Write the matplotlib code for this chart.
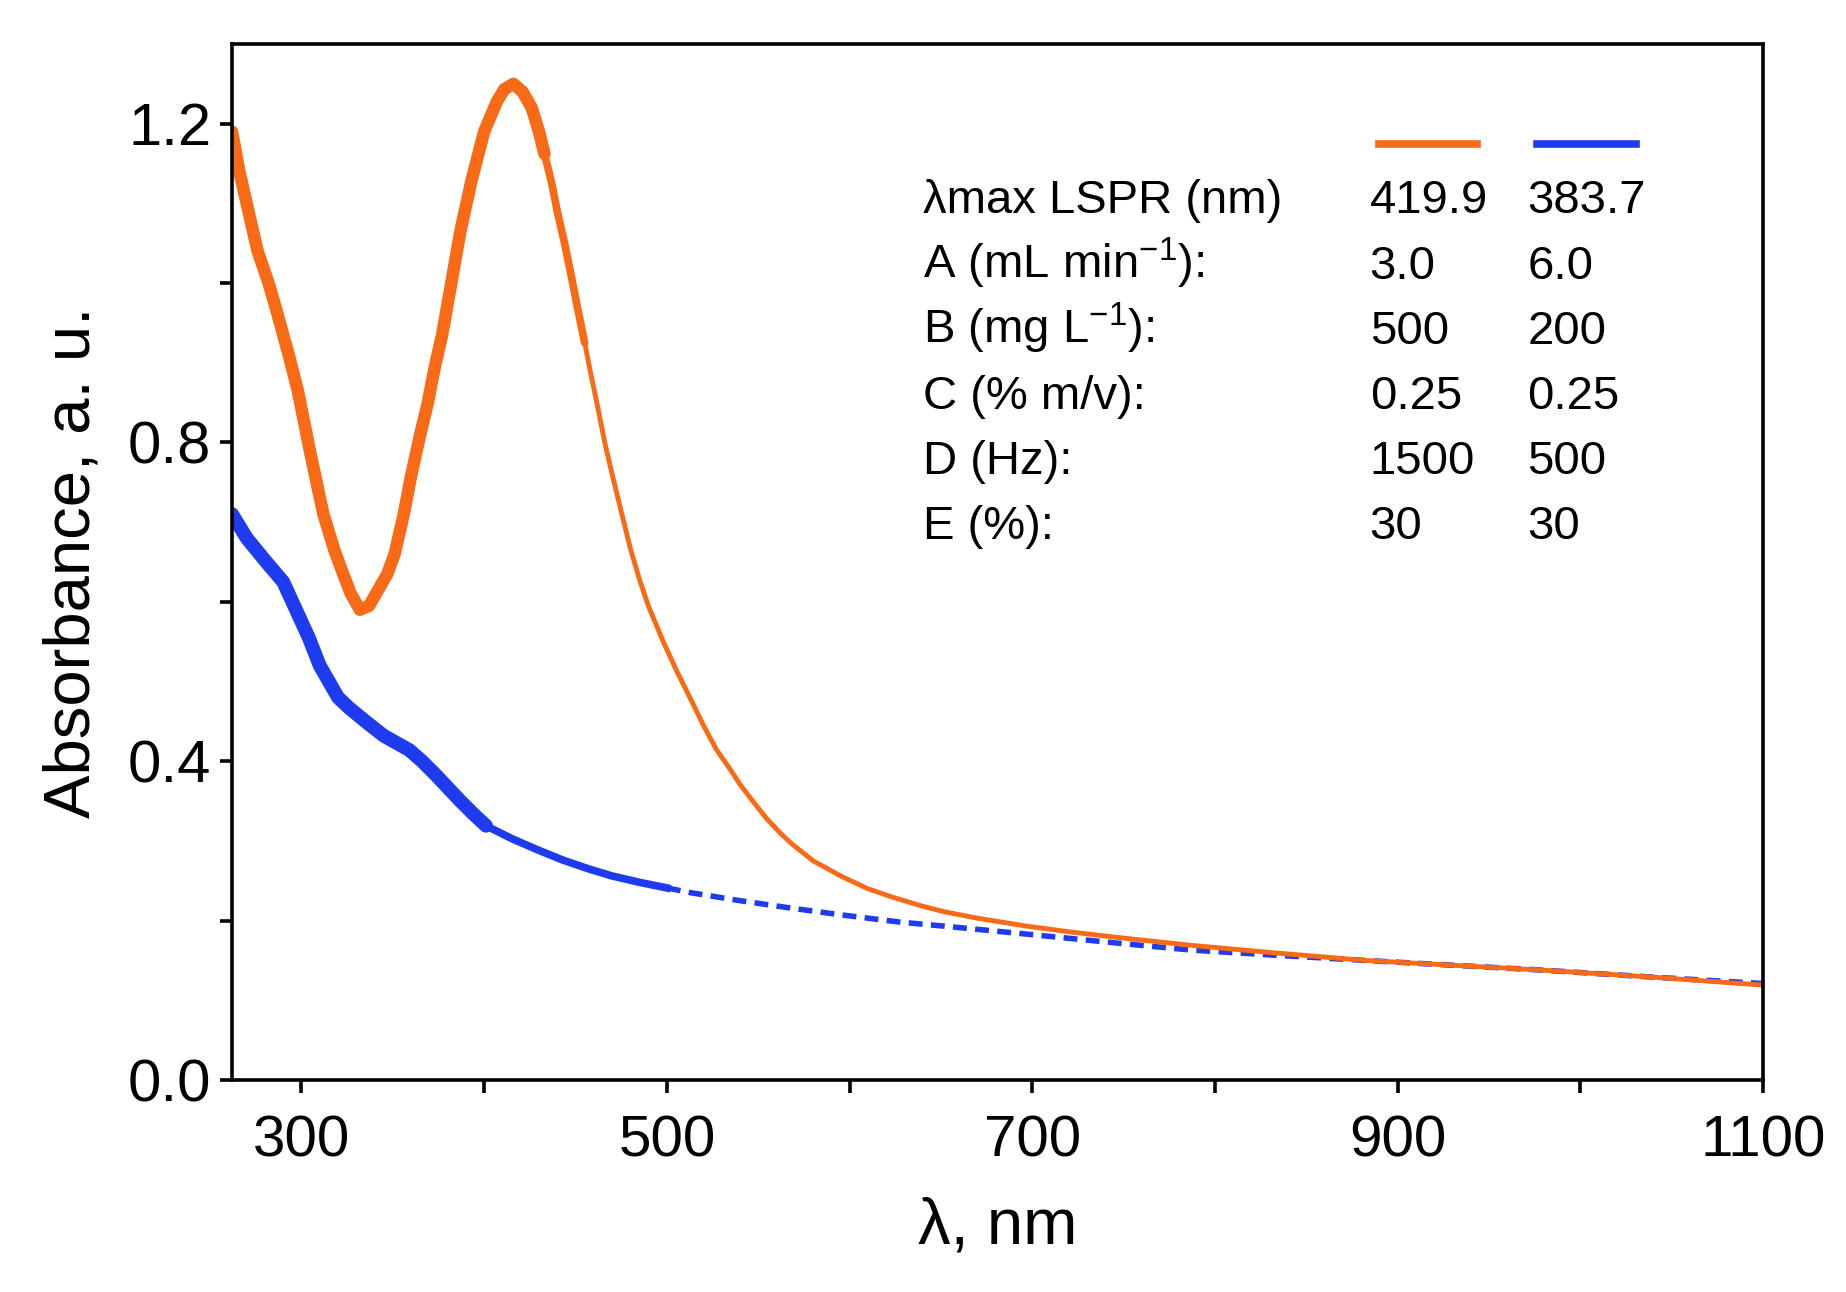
import numpy as np
import matplotlib
matplotlib.use("Agg")
import matplotlib.pyplot as plt
from matplotlib.lines import Line2D

plt.rcParams['font.family'] = ['Liberation Sans', 'DejaVu Sans']
plt.rcParams['mathtext.default'] = 'regular'

# sample 1 (orange)
wl_orange = [262, 266, 270, 276, 282, 287, 293, 298, 305, 312, 318, 322, 327, 332,
             337, 342, 347, 351, 356, 360, 365, 369, 373, 377, 382, 387, 393, 400,
             407, 411, 416, 421, 426, 430, 433, 437, 440, 444, 448, 451, 455, 458,
             462, 466, 469, 473, 477, 480, 485, 490, 498, 505, 513, 520, 527, 534,
             540, 548, 555, 562, 568, 580, 596, 610, 624, 640, 652, 670, 697, 720,
             750, 787, 830, 882, 930, 978, 1040, 1100]
abs_orange = [1.19, 1.14, 1.10, 1.04, 1.00, 0.96, 0.91, 0.865, 0.785, 0.71, 0.665, 0.64,
              0.61, 0.59, 0.595, 0.615, 0.635, 0.66, 0.71, 0.758, 0.81, 0.848, 0.895,
              0.935, 1.0, 1.065, 1.128, 1.19, 1.228, 1.243, 1.25, 1.24, 1.22, 1.19,
              1.162, 1.125, 1.09, 1.05, 1.005, 0.97, 0.925, 0.89, 0.846, 0.8, 0.77,
              0.732, 0.695, 0.667, 0.628, 0.594, 0.55, 0.515, 0.478, 0.445, 0.415, 0.392,
              0.371, 0.347, 0.327, 0.31, 0.297, 0.275, 0.255, 0.24, 0.229, 0.218, 0.211,
              0.203, 0.193, 0.186, 0.178, 0.169, 0.16, 0.15, 0.144, 0.138, 0.129, 0.119]

# sample 2 (blue)
wl_blue = [262, 270, 280, 290, 298, 304, 310, 315, 320, 326, 335, 345, 352, 359, 366,
           373, 380, 387, 394, 401, 415, 429, 443, 457, 470, 485, 500, 513, 540, 570,
           596, 628, 652, 697, 750, 787, 830, 882, 930, 978, 1040, 1100]
abs_blue = [0.71, 0.68, 0.652, 0.625, 0.585, 0.555, 0.52, 0.50, 0.48, 0.467, 0.45,
            0.432, 0.423, 0.414, 0.40, 0.384, 0.367, 0.35, 0.334, 0.319, 0.303, 0.289,
            0.276, 0.265, 0.256, 0.248, 0.241, 0.235, 0.225, 0.215, 0.207, 0.198, 0.193,
            0.183, 0.171, 0.163, 0.157, 0.150, 0.144, 0.138, 0.129, 0.121]

row_labels = ['λmax LSPR (nm)', 'A (mL min$^{-1}$):', 'B (mg L$^{-1}$):',
              'C (% m/v):', 'D (Hz):', 'E (%):']
col_orange = ['419.9', '3.0', '500', '0.25', '1500', '30']
col_blue = ['383.7', '6.0', '200', '0.25', '500', '30']

c_orange = '#F86A16'
c_blue = '#1F3BEF'

wo = np.array(wl_orange)
ao = np.array(abs_orange)
wb = np.array(wl_blue)
ab = np.array(abs_blue)

fig = plt.figure(figsize=(18.46, 12.92), dpi=100)
ax = fig.add_axes([0.1257, 0.1641, 0.8294, 0.8019])

# blue: noisy start, then thinner, then broken (dashed) tail
m1 = wb <= 401
m2 = (wb >= 401) & (wb <= 500)
m3 = wb >= 500
ax.plot(wb[m1], ab[m1], color=c_blue, lw=10, solid_joinstyle='round',
        solid_capstyle='round')
ax.plot(wb[m2], ab[m2], color=c_blue, lw=5.5, solid_joinstyle='round')
ax.plot(wb[m3], ab[m3], color=c_blue, lw=4, ls=(0, (2.5, 1.5)))

# orange: noisy part thicker
ax.plot(wo, ao, color=c_orange, lw=3.5, solid_joinstyle='round')
mo = wo <= 433
ax.plot(wo[mo], ao[mo], color=c_orange, lw=9, solid_joinstyle='round',
        solid_capstyle='round')
mm = (wo >= 430) & (wo <= 455)
ax.plot(wo[mm], ao[mm], color=c_orange, lw=5.5, solid_capstyle='round')

ax.set_xlim(262, 1100)
ax.set_ylim(0, 1.3)
ax.set_xticks([300, 500, 700, 900, 1100])
ax.set_xticks([400, 600, 800, 1000], minor=True)
ax.set_yticks([0.0, 0.4, 0.8, 1.2])
ax.set_yticks([0.2, 0.6, 1.0], minor=True)
ax.set_yticklabels(['0.0', '0.4', '0.8', '1.2'])

for s in ax.spines.values():
    s.set_linewidth(2.6)
ax.tick_params(which='both', direction='out', length=9, width=2.6,
               labelsize=43, pad=6)
ax.tick_params(axis='x', which='both', pad=16, labelsize=42)

ax.set_xlabel('λ, nm', fontsize=47, labelpad=20)
ax.set_ylabel('Absorbance, a. u.', fontsize=47, labelpad=18)

# table-like legend
row_y = [0.8364, 0.7735, 0.7105, 0.6476, 0.5846, 0.5217]
for y, lab, v1, v2 in zip(row_y, row_labels, col_orange, col_blue):
    ax.text(0.451, y, lab, transform=ax.transAxes, fontsize=34, va='baseline')
    ax.text(0.743, y, v1, transform=ax.transAxes, fontsize=34, va='baseline')
    ax.text(0.846, y, v2, transform=ax.transAxes, fontsize=34, va='baseline')

ax.add_line(Line2D([0.749, 0.813], [0.9035, 0.9035], transform=ax.transAxes,
                   color=c_orange, lw=5.5))
ax.add_line(Line2D([0.852, 0.917], [0.9035, 0.9035], transform=ax.transAxes,
                   color=c_blue, lw=5.5))

fig.savefig('out.png', dpi=100)
